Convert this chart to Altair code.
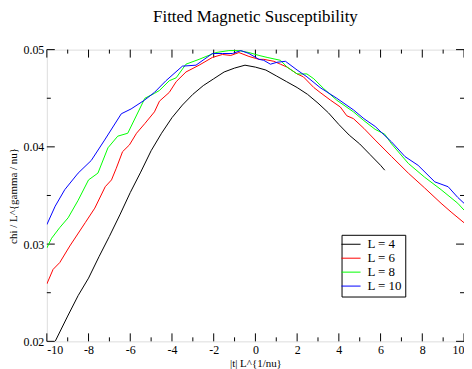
import altair as alt
import pandas as pd

# ---- data ----
x_L4 = [-9.6, -9, -8.5, -8, -7.5, -7, -6.5, -6, -5.5, -5, -4.5, -4, -3.5, -3, -2.5, -2, -1.5, -1,
        -0.5, 0, 0.5, 1, 1.5, 2, 2.5, 3, 3.5, 4, 4.5, 5, 5.5, 6, 6.2]
y_L4 = [0.0200, 0.0226, 0.0247, 0.0265, 0.0287, 0.0308, 0.0330, 0.0353, 0.0374, 0.0396, 0.0414,
        0.0430, 0.0443, 0.0454, 0.0463, 0.0470, 0.0477, 0.0481, 0.0484, 0.0482, 0.0479, 0.0473,
        0.0467, 0.0461, 0.0454, 0.0445, 0.0435, 0.0423, 0.0412, 0.0403, 0.0392, 0.0381, 0.0376]

x_L6 = [-10, -9.7, -9.38, -8.9, -8.16, -7.7, -7.2, -6.9, -6.67, -6.37, -6.04, -5.7, -5.3, -4.84,
        -4.6, -4.13, -3.8, -3.33, -2.7, -2.06, -1.58, -1.18, -0.79, -0.31, 0.17, 0.4, 0.88, 1.2,
        1.52, 2.0, 2.3, 2.8, 3.1, 3.6, 4.07, 4.38, 4.7, 5.2, 5.74, 6.53, 7.33, 8.1, 8.9, 9.38, 10]
y_L6 = [0.0259, 0.0274, 0.0281, 0.0298, 0.0322, 0.0337, 0.0359, 0.0366, 0.0378, 0.0395, 0.0402,
        0.0414, 0.0424, 0.0436, 0.0447, 0.0456, 0.0467, 0.0477, 0.0484, 0.0492, 0.0495, 0.0494,
        0.0497, 0.0493, 0.0490, 0.0490, 0.0488, 0.0485, 0.0482, 0.0475, 0.0472, 0.0461, 0.0456,
        0.0448, 0.0441, 0.0432, 0.0429, 0.0419, 0.0407, 0.0390, 0.0373, 0.0358, 0.0342, 0.0333,
        0.0322]

x_L8 = [-10, -9.77, -9.38, -8.98, -8.5, -8.0, -7.55, -7.07, -6.6, -6.12, -5.3, -4.84, -4.6, -4.13,
        -3.8, -3.33, -2.7, -1.9, -1.27, -0.79, -0.31, 0.17, 0.56, 1.2, 1.52, 2.0, 2.47, 2.8, 3.27,
        3.9, 4.7, 5.2, 5.74, 6.2, 6.53, 7.33, 8.1, 8.9, 9.7, 10]
y_L8 = [0.0296, 0.0306, 0.0317, 0.0327, 0.0345, 0.0366, 0.0373, 0.0399, 0.0411, 0.0414, 0.0450,
        0.0455, 0.0458, 0.0468, 0.0471, 0.0485, 0.0490, 0.0497, 0.0499, 0.0499, 0.0497, 0.0494,
        0.0492, 0.0489, 0.0482, 0.0475, 0.0475, 0.0470, 0.0460, 0.0448, 0.0436, 0.0427, 0.0418,
        0.0413, 0.0403, 0.0383, 0.0369, 0.0356, 0.0342, 0.0335]

x_L10 = [-10, -9.6, -9.14, -8.5, -7.87, -7.23, -6.43, -5.96, -5.32, -4.84, -4.29, -3.5, -2.85,
         -2.06, -1.58, -1.1, -0.7, -0.31, 0.17, 0.4, 0.72, 1.04, 1.44, 2.0, 2.47, 3.1, 3.9, 4.7,
         5.2, 5.74, 6.53, 7.17, 7.8, 8.6, 9.24, 9.7, 10]
y_L10 = [0.0320, 0.0339, 0.0356, 0.0373, 0.0386, 0.0407, 0.0434, 0.0439, 0.0448, 0.0456, 0.0468,
         0.0483, 0.0484, 0.0496, 0.0496, 0.0496, 0.0499, 0.0496, 0.0490, 0.0489, 0.0485, 0.0487,
         0.0488, 0.0479, 0.0472, 0.0461, 0.0450, 0.0438, 0.0429, 0.0421, 0.0405, 0.0390, 0.0381,
         0.0364, 0.0359, 0.0348, 0.0342]

series_names = ["L = 4", "L = 6", "L = 8", "L = 10"]
series_colors = ["#000000", "#ff0000", "#00ff00", "#0000ff"]

x_major = [-10, -8, -6, -4, -2, 0, 2, 4, 6, 8, 10]
x_minor = [-9, -7, -5, -3, -1, 1, 3, 5, 7, 9]
y_major = [0.02, 0.03, 0.04, 0.05]
y_minor = [0.025, 0.035, 0.045]

# ---- build table ----
rows = []
for k, (name, xs, ys) in enumerate(zip(series_names, [x_L4, x_L6, x_L8, x_L10],
                                       [y_L4, y_L6, y_L8, y_L10])):
    for i, (a, b) in enumerate(zip(xs, ys)):
        rows.append({"x": a, "y": b, "L": name, "k": k, "i": i})
df = pd.DataFrame(rows)

W, H = 419, 293
SERIF = "Liberation Serif"

xscale = alt.Scale(domain=[-10, 10], nice=False, zero=False)
yscale = alt.Scale(domain=[0.02, 0.05], nice=False, zero=False)

lines = alt.Chart(df).mark_line(strokeWidth=1, clip=True).encode(
    x=alt.X("x:Q", scale=xscale,
            axis=alt.Axis(values=x_major, labelExpr="'' + datum.value", ticks=False,
                          domain=False, grid=False,
                          labelFont=SERIF, labelFontSize=12, labelColor="black", labelPadding=3,
                          title="|t| L^{1/nu}", titleFont=SERIF, titleFontSize=11,
                          titleFontWeight="normal", titleColor="black", titlePadding=2)),
    y=alt.Y("y:Q", scale=yscale,
            axis=alt.Axis(values=y_major, format=".2f", ticks=False, domain=False, grid=False,
                          labelFont=SERIF, labelFontSize=12, labelColor="black", labelPadding=3,
                          title="chi / L^{gamma / nu}", titleFont=SERIF, titleFontSize=11,
                          titleFontWeight="normal", titleColor="black", titlePadding=4)),
    color=alt.Color("L:N",
                    scale=alt.Scale(domain=series_names, range=series_colors),
                    legend=alt.Legend(title=None, orient="none", legendX=296, legendY=186,
                                      values=series_names,
                                      strokeColor="black", fillColor="white", padding=3,
                                      symbolType="M-1.6,0H1.6", symbolSize=144,
                                      symbolStrokeWidth=1, symbolFillColor="transparent",
                                      labelFont=SERIF, labelFontSize=13, labelColor="black",
                                      labelOffset=10, rowPadding=-2)),
    detail="k:N",
    order="i:Q",
)


def xticks(vals, length, top):
    d = pd.DataFrame({"v": vals})
    if top:
        yy, yy2 = alt.value(0), alt.value(length)
    else:
        yy, yy2 = alt.value(H), alt.value(H - length)
    return alt.Chart(d).mark_rule(color="black", strokeWidth=1).encode(
        x=alt.X("v:Q", scale=xscale), y=yy, y2=yy2)


def yticks(vals, length, right):
    d = pd.DataFrame({"v": vals})
    if right:
        xx, xx2 = alt.value(W), alt.value(W - length)
    else:
        xx, xx2 = alt.value(0), alt.value(length)
    return alt.Chart(d).mark_rule(color="black", strokeWidth=1).encode(
        y=alt.Y("v:Q", scale=yscale), x=xx, x2=xx2)


ticks = [
    xticks(x_major, 8, False), xticks(x_minor, 4, False),
    xticks(x_major, 8, True), xticks(x_minor, 4, True),
    yticks(y_major, 8, False), yticks(y_minor, 4, False),
    yticks(y_major, 8, True), yticks(y_minor, 4, True),
]

chart = alt.layer(*ticks, lines).properties(
    width=W, height=H,
    title=alt.TitleParams("Fitted Magnetic Susceptibility", font=SERIF, fontSize=17,
                          fontWeight="normal", color="black", offset=18),
    autosize=alt.AutoSizeParams(type="none"),
    padding={"left": 39, "top": 41, "right": 0, "bottom": 30},
).configure_view(stroke="black", strokeWidth=1).configure(background="white")

chart.save("out.html", embed_options={"renderer": "svg", "actions": False})
